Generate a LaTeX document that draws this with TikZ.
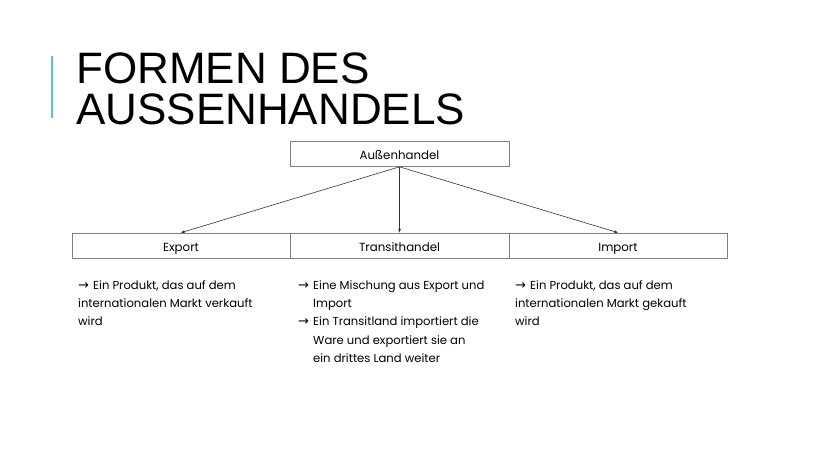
\documentclass[tikz,border=0pt]{standalone}
\usepackage{fontspec}
\setmainfont{Liberation Sans}
\newfontfamily\bodyfont{Poppins}
\newfontfamily\symfont{DejaVu Sans}
\usetikzlibrary{arrows.meta}
\definecolor{accent}{HTML}{5BC0E0}
\definecolor{boxline}{HTML}{7F7F7F}
\newcommand{\arr}{\makebox[15pt][l]{\symfont\fontsize{13}{13}\selectfont →}}
\begin{document}
\begin{tikzpicture}[x=1pt,y=-1pt,
  box/.style={draw=boxline,line width=0.7pt,minimum height=25pt,minimum width=219pt,inner sep=0pt,text height=11pt,text depth=0pt,font=\bodyfont\fontsize{11.8}{13}\selectfont},
  conn/.style={draw=black!80,line width=0.6pt,-{Stealth[length=4pt,width=3pt]}},
  desc/.style={anchor=north west,align=left,inner sep=0pt,font=\bodyfont\fontsize{11.6}{18.4}\selectfont}]
\useasboundingbox[fill=white] (0,0) rectangle (828,466);
\draw[accent,line width=1.3pt] (52,56) -- (52,118);
\node[anchor=base west,inner sep=0pt,font=\fontsize{44}{41}\selectfont] (t1) at (76,83) {FORMEN DES};
\node[anchor=base west,inner sep=0pt,font=\fontsize{44}{41}\selectfont] (t2) at (76,124) {AUSSENHANDELS};
\node[box] (top) at (399.5,154) {Außenhandel};
\node[box,minimum width=218pt] (exp) at (181,245.5) {Export};
\node[box] (tra) at (399.5,245.5) {Transithandel};
\node[box,minimum width=218pt] (imp) at (618,245.5) {Import};
\draw[conn] (top.south) -- (exp.north);
\draw[conn] (top.south) -- (tra.north);
\draw[conn] (top.south) -- (imp.north);
\node[desc] (d1) at (78,280) {\arr Ein Produkt, das auf dem\\internationalen Markt verkauft\\wird};
\node[desc] (d2) at (298,280) {\arr Eine Mischung aus Export und\\\hspace*{15pt}Import\\\arr Ein Transitland importiert die\\\hspace*{15pt}Ware und exportiert sie an\\\hspace*{15pt}ein drittes Land weiter};
\node[desc] (d3) at (515,280) {\arr Ein Produkt, das auf dem\\internationalen Markt gekauft\\wird};
\end{tikzpicture}
\end{document}
